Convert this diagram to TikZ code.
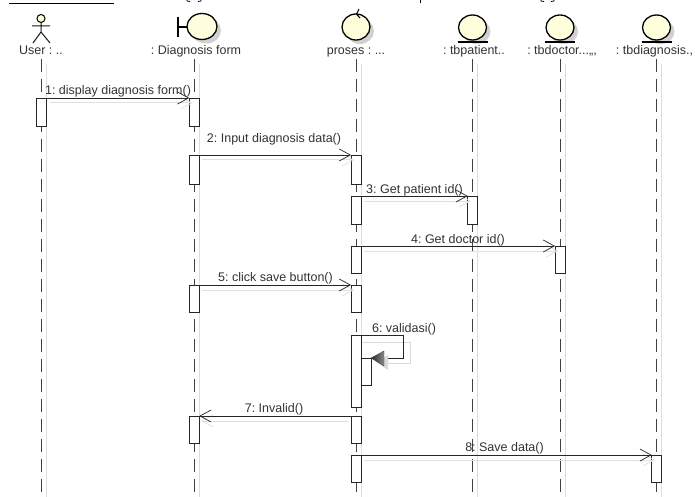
\documentclass[tikz,border=0pt]{standalone}
\usepackage{fontspec}
\setmainfont{Liberation Sans}
\usetikzlibrary{arrows.meta,calc}
\definecolor{fillc}{HTML}{FFFFDD}
\definecolor{shad}{HTML}{DDDDDD}
\tikzset{
  x=1pt,y=-1pt,
  life/.style={draw=black!75,line width=1pt,dash pattern=on 13pt off 7pt},
  lifeshadow/.style={draw=shad,line width=1pt},
  actbx/.style={draw=black!85,fill=white,line width=.8pt,inner sep=0pt,outer sep=0pt,minimum width=10pt},
  msg/.style={draw=black!85,line width=.8pt,-{Straight Barb[length=11pt,width=12pt,line width=.7pt]}},
  msgshadow/.style={draw=black!12,line width=1pt,-{Straight Barb[length=11pt,width=12pt,line width=.7pt]}},
  lbl/.style={font=\fontsize{12.5}{14}\selectfont\frenchspacing,text=black!80,inner sep=0pt,anchor=base},
  icon/.style={draw=black,line width=1.3pt,fill=fillc},
  iconshadow/.style={fill=black!18,draw=none},
}
\newcommand{\actbox}[4]{\pgfmathsetmacro{\acth}{#4-#3}\pgfmathsetmacro{\actc}{(#3+#4)/2}%
  \node[actbx,minimum height=\acth pt] (#1) at (#2,\actc) {};}
\newcommand{\seqmsg}[3]{%
  \draw[msgshadow] ($(#1)+(3,5)$) -- ($(#2)+(3,5)$);
  \draw[msg] (#1) -- (#2);
  \node[lbl] at #3;}
\begin{document}
\begin{tikzpicture}
\useasboundingbox (0,0) rectangle (695,497);
\fill[white] (0,0) rectangle (695,497);
% clipped remains at the top edge
\draw[black,line width=.8pt] (9,3) -- (114,3);
\begin{scope}
\clip (0,0) rectangle (695,2.5);
\draw[black,line width=.8pt] (187,-3) -- (187,1) -- (190,1.5) (198,1.5) -- (201,1) -- (201,-3);
\draw[black,line width=1pt] (420,-3) -- (420,3);
\draw[black,line width=.8pt] (541,-3) -- (541,1) -- (544,1.5) (551,1.5) -- (554,1) -- (554,-3);
\end{scope}
\foreach \n/\x in {1/41.7,2/194.3,3/356,4/472.7,5/560,6/656.7}{
  \coordinate (ll\n) at (\x,59);
  \coordinate (le\n) at (\x,497);
  \draw[lifeshadow] ($(ll\n)+(5,5)$) -- ($(le\n)+(5,0)$);
  \draw[life] (ll\n) -- (le\n);
}
% icons
\draw[black,line width=1pt,fill=fillc] (41,18.5) circle (4pt);
\draw[black!90,line width=1pt] (41,22.5) -- (41,32) (32,26) -- (50,26) (33,43) -- (41,32) -- (50,43);
\fill[iconshadow] (206,30.5) ellipse (15pt and 13pt);
\draw[icon] (202,26.5) ellipse (15pt and 13pt);
\draw[black,line width=1.3pt] (187,27) -- (178,27) (178,17) -- (178,37);
\fill[iconshadow] (360,31) ellipse (14pt and 13pt);
\draw[icon] (356,27) ellipse (14pt and 13pt);
\draw[black,line width=1.1pt] (359,9) -- (356.5,14) -- (360,18);
\foreach \x in {472.5,560,656.5}{
  \fill[iconshadow] (\x+4,31.5) ellipse (14pt and 12.5pt);
  \draw[icon] (\x,27.5) ellipse (14pt and 12.5pt);
  \draw[black,line width=1.3pt] (\x-15,42) -- (\x+15,42);
}
\node[lbl] (u) at (41,55) {User : ..};
\node[lbl] (d) at (196,55) {: Diagnosis form};
\node[lbl] (p) at (356,55) {proses : ...};
\node[lbl] (tp) at (474,55) {: tbpatient..};
\node[lbl] (td) at (562,55) {: tbdoctor...,,,};
\node[lbl] (tg) at (654.5,55) {: tbdiagnosis.,};
% activations
\actbox{a1}{41.7}{98}{126}\actbox{b1}{194.3}{98}{126}
\actbox{a2}{194.3}{155}{184}\actbox{b2}{356}{155}{184}
\actbox{a3}{356}{196}{224}\actbox{b3}{472.7}{196}{224}
\actbox{a4}{356}{246}{273}\actbox{b4}{560}{246}{273}
\actbox{a5}{194.3}{285}{312}\actbox{b5}{356}{285}{312}
\actbox{a6}{356}{335}{407}
\actbox{a7}{356}{416}{443}\actbox{b7}{194.3}{416}{443}
\actbox{a8}{356}{455}{482}\actbox{b8}{656.7}{455}{482}
% messages
\seqmsg{a1.north east}{b1.north west}{(118,95) {1: display diagnosis form()}}
\seqmsg{a2.north east}{b2.north west}{(274,143) {2: Input diagnosis data()}}
\seqmsg{a3.north east}{b3.north west}{(414.5,193) {3: Get patient id()}}
\seqmsg{a4.north east}{b4.north west}{(458,243) {4: Get doctor id()}}
\seqmsg{a5.north east}{b5.north west}{(275.5,281) {5: click save button()}}
\draw[msgshadow] ($(a7.north west)+(-2,5)$) -- ($(b7.north east)+(2,5)$);
\draw[msg] (a7.north west) -- (b7.north east);
\node[lbl] at (274,412) {7: Invalid()};
\seqmsg{a8.north east}{b8.north west}{(504.5,451) {8: Save data()}}
% self message
\draw[draw=black!15,line width=.8pt] (362,342) -- (410,342) -- (410,363) -- (386,363);
\actbox{s6}{366}{358}{385}
\draw[black!85,line width=.8pt] (a6.north east) -- (403,335) -- (403,358) -- (384,358);
\fill[black!15] (376,362) -- (388,355) -- (388,370) -- cycle;
\shade[left color=black!85,right color=black!45,draw=black!70] (s6.north east) -- (384,351) -- (384,366) -- cycle;
\node[lbl] at (404,332) {6: validasi()};
\end{tikzpicture}
\end{document}
